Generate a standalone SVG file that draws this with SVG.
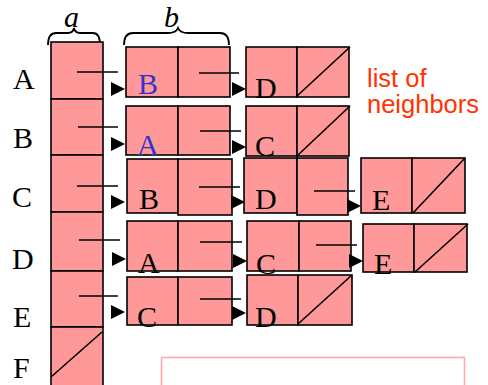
<svg xmlns="http://www.w3.org/2000/svg" xmlns:xlink="http://www.w3.org/1999/xlink" width="488" height="385" viewBox="0 0 488 385">
<style>
.c{fill:#ff9999;stroke:#000;stroke-width:1.6}
.l{stroke:#000;stroke-width:1.6;fill:none}
.t{font-family:"Liberation Serif","Times New Roman",serif;font-size:30px;fill:#000}
.bl{fill:#3333cc}
.br{fill:none;stroke:#000;stroke-width:1.8}
.m{font-family:"Liberation Serif","Times New Roman",serif;font-style:italic;font-size:30px;fill:#000}
.n{font-family:"Liberation Sans",Arial,sans-serif;font-size:25.5px;fill:#ff3300}
</style>
<defs>
<path id="ah" d="M-14,-7 L0,0 L-14,7 Z" fill="#000"/>
</defs>
<rect width="488" height="385" fill="#fff"/>

<g id="labels">
<text class="t" x="13" y="89">A</text>
<text class="t" x="13" y="148">B</text>
<text class="t" x="12" y="207">C</text>
<text class="t" x="12" y="269">D</text>
<text class="t" x="13" y="327">E</text>
<text class="t" x="13" y="378">F</text>
</g>

<g id="braces">
<path class="br" d="M48,45 Q48,33 56,33 L68,33 Q73,33 74,28 Q75,33 80,33 L93,33 Q100,33 100,45"/>
<text class="m" x="64" y="27">a</text>
<path class="br" d="M124,45 Q124,33 133,33 L168,33 Q176,33 178,28 Q180,33 188,33 L220,33 Q229,33 229,45"/>
<text class="m" x="164" y="27">b</text>
</g>

<g id="array">
<rect class="c" x="51" y="42" width="52" height="57"/>
<rect class="c" x="51" y="99" width="52" height="56"/>
<rect class="c" x="51" y="155" width="52" height="57"/>
<rect class="c" x="51" y="212" width="52" height="59"/>
<rect class="c" x="51" y="271" width="52" height="56"/>
<rect class="c" x="51" y="327" width="52" height="60"/>
<line class="l" x1="51" y1="377" x2="102" y2="332"/>
</g>

<g id="rowA-B">
<rect class="c" x="126" y="47" width="52" height="50"/>
<rect class="c" x="178" y="47" width="52" height="50"/>
<text class="t bl" x="138" y="94">B</text>
</g>
<g id="rowA-D">
<rect class="c" x="246" y="47" width="51" height="50"/>
<rect class="c" x="297" y="47" width="52" height="50"/>
<line class="l" x1="297" y1="96" x2="350" y2="47"/>
<text class="t" x="255" y="98">D</text>
</g>

<g id="rowB-A">
<rect class="c" x="126" y="106" width="52" height="49"/>
<rect class="c" x="178" y="106" width="52" height="49"/>
<text class="t bl" x="137" y="155">A</text>
</g>
<g id="rowB-C">
<rect class="c" x="246" y="106" width="51" height="50"/>
<rect class="c" x="297" y="106" width="52" height="50"/>
<line class="l" x1="298" y1="155" x2="350" y2="106"/>
<text class="t" x="255" y="156">C</text>
</g>

<g id="rowC-B">
<rect class="c" x="127" y="159" width="51" height="54"/>
<rect class="c" x="178" y="159" width="54" height="56"/>
<text class="t" x="139" y="209">B</text>
</g>
<g id="rowC-D">
<rect class="c" x="244" y="158" width="53" height="55"/>
<rect class="c" x="297" y="158" width="51" height="57"/>
<text class="t" x="255" y="209">D</text>
</g>
<g id="rowC-E">
<rect class="c" x="361" y="158" width="51" height="55"/>
<rect class="c" x="412" y="158" width="53" height="55"/>
<line class="l" x1="413" y1="213" x2="465" y2="158"/>
<text class="t" x="372" y="210">E</text>
</g>

<g id="rowD-A">
<rect class="c" x="127" y="221" width="51" height="50"/>
<rect class="c" x="178" y="221" width="54" height="50"/>
<text class="t" x="138" y="273">A</text>
</g>
<g id="rowD-C">
<rect class="c" x="247" y="221" width="52" height="50"/>
<rect class="c" x="299" y="221" width="52" height="50"/>
<text class="t" x="256" y="274">C</text>
</g>
<g id="rowD-E">
<rect class="c" x="363" y="224" width="51" height="48"/>
<rect class="c" x="414" y="224" width="53" height="48"/>
<line class="l" x1="415" y1="272" x2="468" y2="224"/>
<text class="t" x="374" y="274">E</text>
</g>

<g id="rowE-C">
<rect class="c" x="127" y="277" width="51" height="48"/>
<rect class="c" x="178" y="277" width="54" height="48"/>
<text class="t" x="137" y="327">C</text>
</g>
<g id="rowE-D">
<rect class="c" x="247" y="275" width="51" height="50"/>
<rect class="c" x="298" y="275" width="54" height="50"/>
<line class="l" x1="298" y1="324" x2="352" y2="275"/>
<text class="t" x="255" y="327">D</text>
</g>

<g id="connectors">
<line class="l" x1="77" y1="72" x2="118" y2="72"/>
<use xlink:href="#ah" x="125" y="89"/>
<line class="l" x1="199" y1="73" x2="239" y2="73"/>
<use xlink:href="#ah" x="246" y="89"/>

<line class="l" x1="78" y1="127" x2="118" y2="127"/>
<use xlink:href="#ah" x="125" y="144"/>
<line class="l" x1="200" y1="131" x2="241" y2="131"/>
<use xlink:href="#ah" x="246" y="147"/>

<line class="l" x1="77" y1="186" x2="118" y2="186"/>
<use xlink:href="#ah" x="125" y="202"/>
<line class="l" x1="199" y1="187" x2="240" y2="187"/>
<use xlink:href="#ah" x="245" y="202"/>
<line class="l" x1="314" y1="191" x2="355" y2="191"/>
<use xlink:href="#ah" x="361" y="206"/>

<line class="l" x1="79" y1="240" x2="120" y2="240"/>
<use xlink:href="#ah" x="126" y="259"/>
<line class="l" x1="200" y1="242" x2="242" y2="242"/>
<use xlink:href="#ah" x="247" y="261"/>
<line class="l" x1="316" y1="245" x2="357" y2="245"/>
<use xlink:href="#ah" x="363" y="261"/>

<line class="l" x1="79" y1="296" x2="118" y2="296"/>
<use xlink:href="#ah" x="125" y="312"/>
<line class="l" x1="200" y1="299" x2="241" y2="299"/>
<use xlink:href="#ah" x="246" y="313"/>
</g>

<g id="note">
<text class="n" x="367" y="87">list of</text>
<text class="n" x="367" y="113">neighbors</text>
</g>

<rect x="161.5" y="357.5" width="303" height="40" fill="none" stroke="#ffaaaa" stroke-width="1.6"/>
</svg>
